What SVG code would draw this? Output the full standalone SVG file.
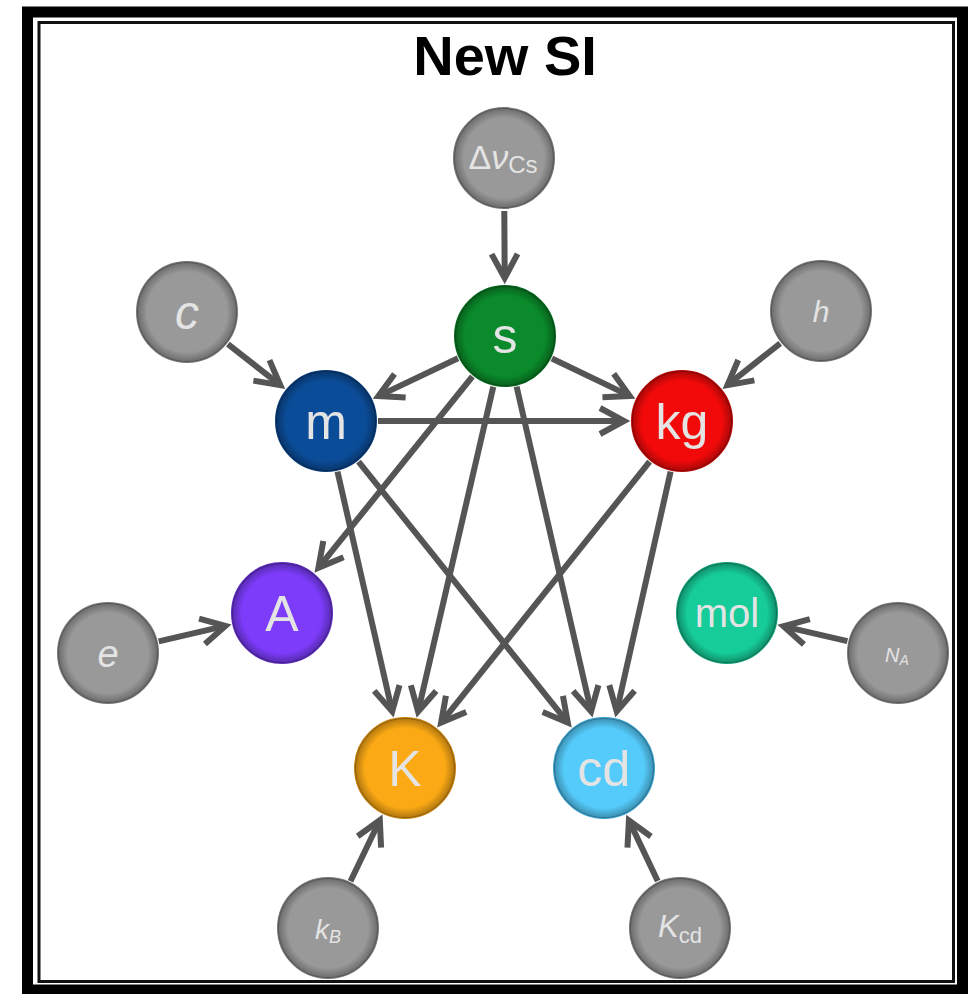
<svg xmlns="http://www.w3.org/2000/svg" width="968" height="994" viewBox="0 0 968 994">
<style>
.node-c{stroke-width:2}
.lbl{font-family:"Liberation Sans",Arial,sans-serif;fill:#e4e4e4;text-anchor:middle}
.ital{font-style:italic}
.edge{stroke:#555;stroke-width:6;fill:none;marker-end:url(#arr)}
.title{font-family:"Liberation Sans",Arial,sans-serif;font-weight:bold;font-size:56px;fill:#000;text-anchor:middle}
</style>
<defs>
<radialGradient id="rim" cx="0.5" cy="0.5" r="0.5">
<stop offset="0.8" stop-color="#000" stop-opacity="0"/>
<stop offset="1" stop-color="#000" stop-opacity="0.3"/>
</radialGradient>
<marker id="arr" viewBox="-32 -16 36 32" markerWidth="36" markerHeight="32" refX="0" refY="0" orient="auto" markerUnits="userSpaceOnUse" overflow="visible">
<path d="M-24,-13 L0,0 L-24,13" fill="none" stroke="#555" stroke-width="6" stroke-linejoin="miter" stroke-linecap="butt"/>
</marker>
</defs>
<rect x="0" y="0" width="968" height="994" fill="#fff"/>
<rect x="27.5" y="12" width="935" height="978" fill="none" stroke="#000" stroke-width="11"/>
<rect x="39" y="22.5" width="914.5" height="959" fill="none" stroke="#111" stroke-width="3"/>
<text class="title" x="505" y="75">New SI</text>

<g id="connectors">
<line class="edge" x1="504.3" y1="211" x2="504.7" y2="278"/>
<line class="edge" x1="227.9" y1="344.1" x2="280.3" y2="385.2"/>
<line class="edge" x1="780.2" y1="343.3" x2="727.5" y2="385.1"/>
<line class="edge" x1="458" y1="358.3" x2="378.4" y2="396.1"/>
<line class="edge" x1="551.9" y1="358.5" x2="629.7" y2="395.9"/>
<line class="edge" x1="378" y1="421" x2="624" y2="421"/>
<line class="edge" x1="472.4" y1="376.5" x2="318.4" y2="567.8"/>
<line class="edge" x1="493.3" y1="386.7" x2="418.1" y2="711.5"/>
<line class="edge" x1="516.6" y1="386.7" x2="591.1" y2="711.4"/>
<line class="edge" x1="337.5" y1="471.7" x2="392.2" y2="711.4"/>
<line class="edge" x1="358.5" y1="461.6" x2="567.8" y2="722.7"/>
<line class="edge" x1="649.6" y1="461.6" x2="441.1" y2="722.6"/>
<line class="edge" x1="670.6" y1="471.7" x2="616.7" y2="711.4"/>
<line class="edge" x1="158.7" y1="641.3" x2="225.4" y2="625.9"/>
<line class="edge" x1="847.4" y1="641.2" x2="783.5" y2="626.3"/>
<line class="edge" x1="350.5" y1="881.2" x2="379.8" y2="820.3"/>
<line class="edge" x1="657.7" y1="881" x2="628.9" y2="820.4"/>
</g>

<g id="node-dv">
<circle cx="504" cy="158" r="50" fill="#999" stroke="#777" class="node-c"/>
<circle cx="504" cy="158" r="50" fill="url(#rim)"/>
<text class="lbl" x="503" y="169" font-size="34"><tspan>Δ</tspan><tspan class="ital">ν</tspan><tspan font-size="24" dy="4">Cs</tspan></text>
</g>
<g id="node-s">
<circle cx="505" cy="336" r="50" fill="#0a8a2a" stroke="#076a20" class="node-c"/>
<circle cx="505" cy="336" r="50" fill="url(#rim)"/>
<text class="lbl" x="505" y="353" font-size="50">s</text>
</g>
<g id="node-c">
<circle cx="187" cy="312" r="50" fill="#999" stroke="#777" class="node-c"/>
<circle cx="187" cy="312" r="50" fill="url(#rim)"/>
<text class="lbl ital" x="187" y="329" font-size="48">c</text>
</g>
<g id="node-h">
<circle cx="821" cy="311" r="50" fill="#999" stroke="#777" class="node-c"/>
<circle cx="821" cy="311" r="50" fill="url(#rim)"/>
<text class="lbl ital" x="821" y="322" font-size="30">h</text>
</g>
<g id="node-m">
<circle cx="326" cy="421" r="50" fill="#0b4c98" stroke="#083a78" class="node-c"/>
<circle cx="326" cy="421" r="50" fill="url(#rim)"/>
<text class="lbl" x="326" y="439" font-size="50">m</text>
</g>
<g id="node-kg">
<circle cx="682" cy="421" r="50" fill="#f20a0a" stroke="#b80808" class="node-c"/>
<circle cx="682" cy="421" r="50" fill="url(#rim)"/>
<text class="lbl" x="682" y="439" font-size="50">kg</text>
</g>
<g id="node-A">
<circle cx="282" cy="613" r="50" fill="#7c3cfa" stroke="#5e2cc0" class="node-c"/>
<circle cx="282" cy="613" r="50" fill="url(#rim)"/>
<text class="lbl" x="282" y="631" font-size="50">A</text>
</g>
<g id="node-mol">
<circle cx="727" cy="613" r="50" fill="#16cc98" stroke="#10a077" class="node-c"/>
<circle cx="727" cy="613" r="50" fill="url(#rim)"/>
<text class="lbl" x="727" y="627" font-size="40">mol</text>
</g>
<g id="node-e">
<circle cx="108" cy="653" r="50" fill="#999" stroke="#777" class="node-c"/>
<circle cx="108" cy="653" r="50" fill="url(#rim)"/>
<text class="lbl ital" x="108" y="667" font-size="38">e</text>
</g>
<g id="node-NA">
<circle cx="898" cy="653" r="50" fill="#999" stroke="#777" class="node-c"/>
<circle cx="898" cy="653" r="50" fill="url(#rim)"/>
<text class="lbl ital" x="897" y="662" font-size="20">N<tspan font-size="14" dy="3">A</tspan></text>
</g>
<g id="node-K">
<circle cx="405" cy="768" r="50" fill="#fba915" stroke="#c98410" class="node-c"/>
<circle cx="405" cy="768" r="50" fill="url(#rim)"/>
<text class="lbl" x="405" y="786" font-size="50">K</text>
</g>
<g id="node-cd">
<circle cx="604" cy="768" r="50" fill="#55cbfb" stroke="#3aa0cc" class="node-c"/>
<circle cx="604" cy="768" r="50" fill="url(#rim)"/>
<text class="lbl" x="604" y="786" font-size="50">cd</text>
</g>
<g id="node-kB">
<circle cx="328" cy="928" r="50" fill="#999" stroke="#777" class="node-c"/>
<circle cx="328" cy="928" r="50" fill="url(#rim)"/>
<text class="lbl ital" x="328" y="939" font-size="28">k<tspan font-size="18" dy="4">B</tspan></text>
</g>
<g id="node-Kcd">
<circle cx="680" cy="928" r="50" fill="#999" stroke="#777" class="node-c"/>
<circle cx="680" cy="928" r="50" fill="url(#rim)"/>
<text class="lbl" x="680" y="937" font-size="31"><tspan class="ital">K</tspan><tspan font-size="22" dy="6">cd</tspan></text>
</g>
</svg>
